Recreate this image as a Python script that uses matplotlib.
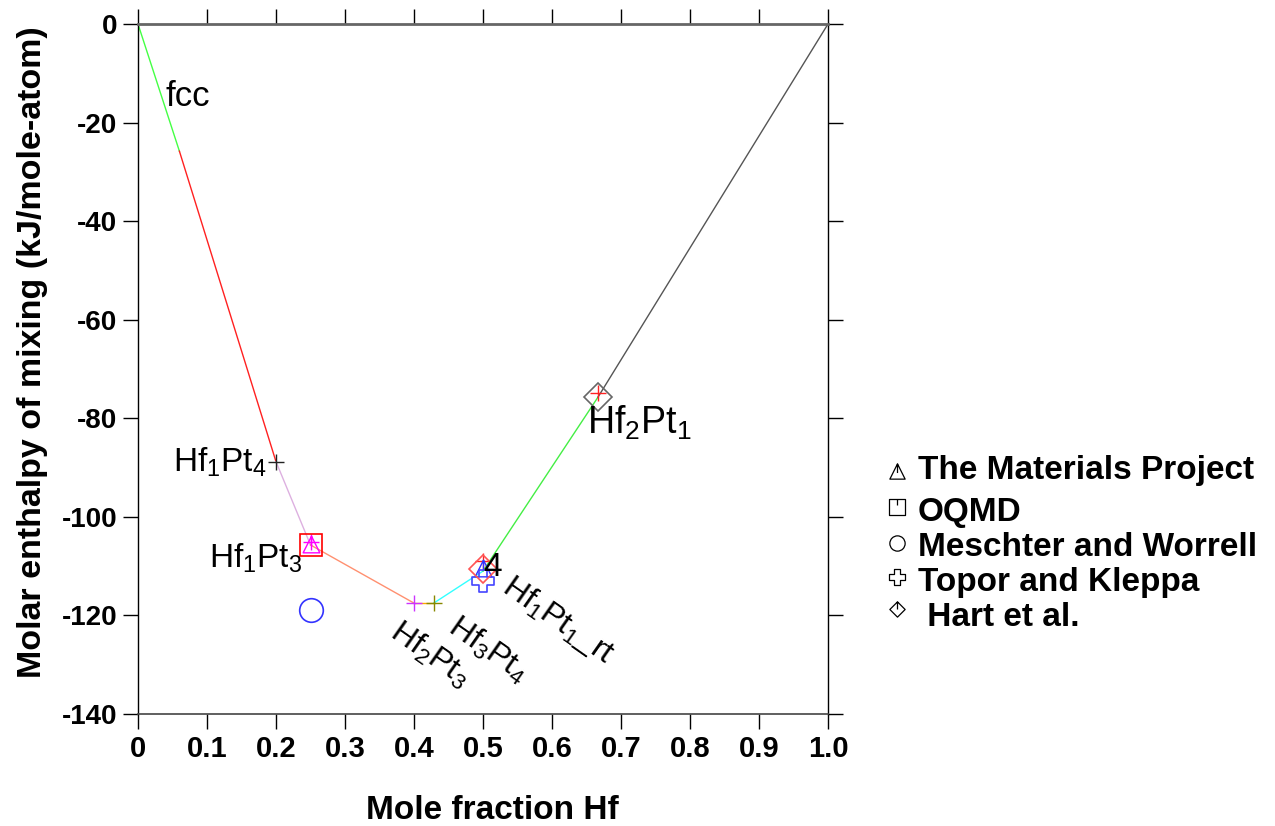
import matplotlib
matplotlib.use("Agg")
import matplotlib.pyplot as plt
from matplotlib.path import Path
import numpy as np

plt.rcParams['font.family'] = ['Liberation Sans', 'DejaVu Sans']
plt.rcParams['mathtext.fontset'] = 'custom'
plt.rcParams['mathtext.rm'] = 'Liberation Sans'
plt.rcParams['mathtext.it'] = 'Liberation Sans:italic'
plt.rcParams['mathtext.bf'] = 'Liberation Sans:bold'

# ---- data ----
hull_x = [0.0, 0.06, 0.20, 0.25, 0.40, 0.4286, 0.50, 0.6667, 1.0]
hull_y = [0.0, -25.8, -88.8, -105.7, -117.5, -117.5, -111.0, -75.7, 0.0]
seg_colors = ['#44ff44', '#ff2020', '#ddb0e0', '#ff9070', '#ffa500', '#33ffff', '#44ee44', '#555555']

calc_x = [0.20, 0.25, 0.40, 0.4286, 0.50, 0.6667]
calc_y = [-88.8, -105.0, -117.4, -117.4, -109.0, -74.8]
calc_colors = ['#222222', '#ff00ff', '#cc33ff', '#888800', '#ff2222', '#ff2222']

mp_x = [0.25, 0.50]
mp_y = [-105.5, -110.3]
mp_colors = ['#ff00ff', '#3333ff']

oqmd_x = [0.25]
oqmd_y = [-105.7]

mw_x = [0.25]
mw_y = [-118.9]

tk_x = [0.50]
tk_y = [-113.0]

hart_x = [0.50, 0.6667]
hart_y = [-110.5, -75.7]
hart_colors = ['#ff5555', '#666666']

phase_labels = ['fcc', r'Hf$_1$Pt$_4$', r'Hf$_1$Pt$_3$', r'Hf$_2$Pt$_3$', r'Hf$_3$Pt$_4$',
                r'Hf$_1$Pt$_1$_rt', r'Hf$_2$Pt$_1$', '4']
label_x = [0.072, 0.118, 0.170, 0.423, 0.507, 0.609, 0.726, 0.514]
label_y = [-14.8, -89.0, -108.5, -128.0, -127.0, -121.0, -80.9, -110.3]
label_rot = [0, 0, 0, -35, -35, -35, 0, 0]
label_size = [25, 24, 24, 23, 23, 23, 27, 24]

legend_names = ['The Materials Project', 'OQMD', 'Meschter and Worrell',
                'Topor and Kleppa', ' Hart et al.']

xticks = [0, 0.1, 0.2, 0.3, 0.4, 0.5, 0.6, 0.7, 0.8, 0.9, 1.0]
xticklabels = ['0', '0.1', '0.2', '0.3', '0.4', '0.5', '0.6', '0.7', '0.8', '0.9', '1.0']
yticks = [0, -20, -40, -60, -80, -100, -120, -140]

# ---- custom markers ----
def mk(verts, codes):
    return Path(np.array(verts, float), codes)

M, L, C = Path.MOVETO, Path.LINETO, Path.CLOSEPOLY
tri_m = mk([(-1, -1), (1, -1), (0, 1), (-1, -1), (0, 1), (0, -0.2)], [M, L, L, C, M, L])
sq_m = mk([(-1, -1), (1, -1), (1, 1), (-1, 1), (-1, -1), (0, 1), (0, 0.3)], [M, L, L, L, C, M, L])
dia_m = mk([(0, -1), (1, 0), (0, 1), (-1, 0), (0, -1), (0, 1), (0, 0)], [M, L, L, L, C, M, L])
a = 0.35
cross_v = [(-a, -1), (a, -1), (a, -a), (1, -a), (1, a), (a, a), (a, 1), (-a, 1), (-a, a),
           (-1, a), (-1, -a), (-a, -a), (-a, -1)]
cross_m = mk(cross_v, [M] + [L] * 11 + [C])

fig = plt.figure(figsize=(12.75, 8.26), dpi=100)
ax = fig.add_axes([138 / 1275, 1 - 714 / 826, 690 / 1275, 690 / 826])

for i in range(len(hull_x) - 1):
    ax.plot(hull_x[i:i + 2], hull_y[i:i + 2], color=seg_colors[i], lw=1.0, zorder=2)

for x, y, c in zip(calc_x, calc_y, calc_colors):
    ax.plot([x], [y], marker='+', color=c, ms=11, mew=1.0, zorder=4, ls='none')
for x, y, c in zip(mp_x, mp_y, mp_colors):
    ax.plot([x], [y], marker=tri_m, color=c, mfc='none', ms=12, mew=1.0, zorder=4, ls='none')
ax.plot(oqmd_x, oqmd_y, marker='s', color='#ff0000', mfc='none', ms=16, mew=1.2, ls='none', zorder=4)
ax.plot(mw_x, mw_y, marker='o', color='#3333ff', mfc='none', ms=17, mew=1.2, ls='none', zorder=4)
ax.plot(tk_x, tk_y, marker=cross_m, color='#4444ff', mfc='none', ms=16, mew=1.2, ls='none', zorder=4)
for x, y, c in zip(hart_x, hart_y, hart_colors):
    ax.plot([x], [y], marker='D', color=c, mfc='none', ms=14, mew=1.2, ls='none', zorder=4)

for t, x, y, r, s in zip(phase_labels, label_x, label_y, label_rot, label_size):
    ax.text(x, y, t, fontsize=s, ha='center', va='center', rotation=r,
            rotation_mode='anchor', zorder=5)

ax.set_xlim(0, 1.0)
ax.set_ylim(-140, 0)
ax.set_xticks(xticks)
ax.set_xticklabels(xticklabels)
ax.set_yticks(yticks)
ax.set_yticklabels([str(v) for v in yticks])
ax.tick_params(axis='both', direction='out', length=11, width=1.0,
               top=True, right=True, pad=4)
ax.tick_params(axis='x', labelsize=21)
ax.tick_params(axis='y', labelsize=20)
for lab in ax.get_xticklabels() + ax.get_yticklabels():
    lab.set_fontweight('bold')
for s in ['left', 'right']:
    ax.spines[s].set_color('black')
    ax.spines[s].set_linewidth(1.0)
ax.spines['top'].set_color('#666666')
ax.spines['top'].set_linewidth(2.0)
ax.spines['bottom'].set_color('#444444')
ax.spines['bottom'].set_linewidth(1.2)

ax.set_xlabel('Mole fraction Hf', fontsize=24, fontweight='bold')
ax.set_ylabel('Molar enthalpy of mixing (kJ/mole-atom)', fontsize=24.5, fontweight='bold')
ax.xaxis.set_label_coords(0.513, -0.117)
ax.yaxis.set_label_coords(-0.130, 0.525)

# ---- legend (manual) ----
leg_markers = [tri_m, sq_m, 'o', cross_m, dia_m]
leg_my = [1 - 471 / 826, 1 - 507 / 826, 1 - 543 / 826, 1 - 577 / 826, 1 - 609 / 826]
leg_ty = [1 - 470 / 826, 1 - 513 / 826, 1 - 548 / 826, 1 - 582 / 826, 1 - 618 / 826]
for m, my, ty, name in zip(leg_markers, leg_my, leg_ty, legend_names):
    fig.add_artist(plt.Line2D([897 / 1275], [my], marker=m, color='black', mfc='none',
                              ms=11, mew=0.9, ls='none', transform=fig.transFigure))
    fig.text(918 / 1275, ty, name, fontsize=24, fontweight='bold', ha='left', va='center')

fig.savefig('out.png', dpi=100, facecolor='white')
